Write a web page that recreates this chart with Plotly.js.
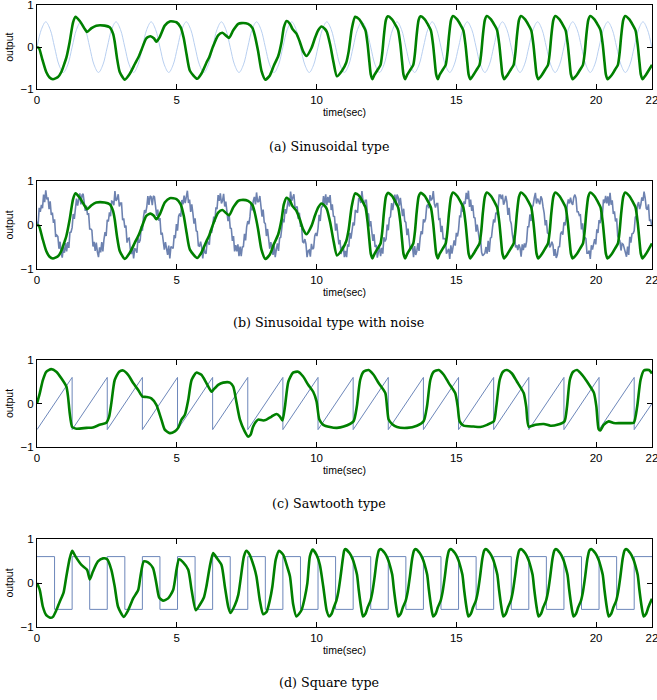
<!DOCTYPE html>
<html><head><meta charset="utf-8">
<script src="https://cdn.plot.ly/plotly-3.0.1.min.js"></script>
<style>html,body{margin:0;padding:0;background:#fff}#chart{width:657px;height:700px}</style>
</head><body><div id="chart"></div>
<script>
// ---------------- data ----------------
const xTickVals=[0,5,10,15,20,22];
const xTickText=['0','5','10','15','20','22'];
const yTickVals=[-1,0,1];
const yTickText=['\u22121','0','1'];
const captions=['(a) Sinusoidal type','(b) Sinusoidal type with noise','(c) Sawtooth type','(d) Square type'];
const xTitle='time(sec)';
const yTitle='output';

// sinusoidal reference input (sampled every sineStep seconds)
const sineStep=0.15708;
const sineIn=[
0,.42,.6,.42,0,-.42,-.6,-.42, 0,.42,.6,.42,0,-.42,-.6,-.42, 0,.42,.6,.42,0,-.42,-.6,-.42,
0,.42,.6,.42,0,-.42,-.6,-.42, 0,.42,.6,.42,0,-.42,-.6,-.42, 0,.42,.6,.42,0,-.42,-.6,-.42,
0,.42,.6,.42,0,-.42,-.6,-.42, 0,.42,.6,.42,0,-.42,-.6,-.42, 0,.42,.6,.42,0,-.42,-.6,-.42,
0,.42,.6,.42,0,-.42,-.6,-.42, 0,.42,.6,.42,0,-.42,-.6,-.42, 0,.42,.6,.42,0,-.42,-.6,-.42,
0,.42,.6,.42,0,-.42,-.6,-.42, 0,.42,.6,.42,0,-.42,-.6,-.42, 0,.42,.6,.42,0,-.42,-.6,-.42,
0,.42,.6,.42,0,-.42,-.6,-.42, 0,.42,.6,.42,0,-.42,-.6,-.42, 0,.42,.6,.42,0];

// noisy sinusoidal input (sampled every noiseStep seconds)
const noiseStep=0.0392699;
const noisyIn=[
.08,.01,.39,.30,.46,.38,.69,.52,.79,.58,.63,.36,.54,.23,.28,.05,.13,-.27,-.23,-.26,-.54,-.38,-.63,-.74,-.51,-.63,-.41,-.60,-.39,-.52,-.17,-.16,
-.06,.25,.14,.39,.60,.44,.55,.72,.47,.68,.71,.48,.32,.44,.23,.27,-.09,-.09,-.12,-.49,-.38,-.59,-.40,-.61,-.73,-.51,-.62,-.39,-.60,-.33,-.16,-.25,
.12,.08,.29,.20,.54,.53,.45,.77,.55,.59,.70,.42,.50,.50,.11,.15,-.06,-.01,-.40,-.31,-.30,-.55,-.66,-.49,-.76,-.54,-.55,-.63,-.29,-.40,-.34,-.03,
-.13,.18,.34,.27,.41,.66,.46,.66,.64,.45,.66,.64,.39,.21,.35,.10,.16,-.22,-.17,-.39,-.56,-.39,-.54,-.68,-.47,-.76,-.49,-.51,-.53,-.23,-.30,.02,
-.13,.20,.26,.19,.57,.47,.67,.50,.62,.78,.50,.58,.30,.47,.27,.03,.15,-.13,-.15,-.47,-.48,-.38,-.50,-.76,-.51,-.63,-.65,-.36,-.40,-.45,-.11,-.18,
-.04,.19,.07,.40,.36,.68,.55,.72,.49,.55,.71,.42,.53,.36,.09,.25,-.07,-.08,-.36,-.25,-.60,-.46,-.60,-.44,-.71,-.49,-.71,-.50,-.49,-.20,-.35,-.04,
.09,.02,.19,.50,.33,.54,.64,.47,.74,.52,.54,.66,.48,.19,.35,.06,.03,-.25,-.09,-.29,-.54,-.39,-.59,-.68,-.46,-.73,-.56,-.42,-.59,-.30,-.28,0,
.14,.06,.36,.26,.45,.60,.42,.76,.55,.64,.70,.40,.40,.42,.14,.28,-.02,-.01,-.38,-.40,-.32,-.43,-.73,-.59,-.57,-.72,-.43,-.55,-.52,-.25,-.18,-.25,
-.08,.23,.09,.40,.42,.66,.45,.70,.45,.64,.51,.68,.34,.47,.20,.19,-.13,.03,-.25,-.44,-.34,-.66,-.51,-.48,-.73,-.59,-.73,-.44,-.49,-.18,-.31,-.08,
.06,-.01,.34,.31,.28,.60,.59,.50,.77,.54,.43,.56,.56,.26,.25,-.03,.09,-.15,-.36,-.21,-.50,-.45,-.74,-.61,-.51,-.71,-.52,-.65,-.28,-.37,-.32,.01,
-.12,.16,.19,.50,.34,.51,.69,.45,.69,.63,.44,.62,.38,.20,.37,.09,.06,-.23,-.08,-.39,-.58,-.49,-.48,-.73,-.48,-.68,-.59,-.41,-.59,-.30,-.14,-.21,
.13,.06,.14,.43,.47,.38,.68,.56,.60,.77,.48,.40,.49,.49,.13,.14,-.16,-.02,-.31,-.31,-.32,-.65,-.60,-.54,-.77,-.46,-.65,-.53,-.35,-.47,-.18,-.26,
-.11,.20,.19,.50,.30,.54,.48,.73,.59,.78,.41,.58,.32,.45,.17,.16,-.15,.01,-.15,-.34,-.30,-.62,-.70,-.67,-.64,-.50,-.65,-.36,-.61,-.30,-.28,-.05,
.13,.06,.28,.25,.36,.68,.68,.59,.69,.46,.53,.66,.53,.23,.39,.11,.03,-.21,-.38,-.23,-.51,-.46,-.57,-.44,-.52,-.72,-.44,-.57,-.42,-.51,-.37,-.04,
-.04,.24,.09,.40,.45,.62,.73,.49,.60,.54,.47,.65,.59,.41,.27,-.01,.11,-.18,-.20,-.51,-.47,-.38,-.45,-.70,-.55,-.75,-.68,-.50,-.49,-.20,-.15,-.22,
.06,-.01,.16,.45,.58,.49,.62,.50,.46,.63,.69,.61,.30,.30,.22,.23,-.10,.04,-.28,-.28,-.31,-.64,-.64,-.58,-.77,-.46,-.56,-.44,-.32,-.44,-.10,-.18,
.11,.04,.29,.20,.58,.50,.66,.49,.65,.44,.73,.46,.56,.25,.31,.08,.15,-.25,-.33,-.36,-.58,-.42,-.44,-.55,-.60,-.72,-.49,-.68,-.27,-.40,-.20,-.19,
-.13,.18,.20,.45,.52,.36,.46,.63,.55,.76,.61,.38,.35,.47,.09,.13,-.03];

// sawtooth input corners
const sawT=[0,1.257,1.257,2.513,2.513,3.770,3.770,5.027,5.027,6.283,6.283,7.540,7.540,8.796,8.796,10.053,10.053,11.310,11.310,12.566,12.566,13.823,13.823,15.080,15.080,16.336,16.336,17.593,17.593,18.850,18.850,20.106,20.106,21.363,21.363,22];
const sawY=[-.6,.6,-.6,.6,-.6,.6,-.6,.6,-.6,.6,-.6,.6,-.6,.6,-.6,.6,-.6,.6,-.6,.6,-.6,.6,-.6,.6,-.6,.6,-.6,.6,-.6,.6,-.6,.6,-.6,.6,-.6,0];

// square input switching times and levels
const sqT=[0,0.628,1.257,1.885,2.513,3.142,3.770,4.398,5.027,5.655,6.283,6.912,7.540,8.168,8.796,9.425,10.053,10.681,11.310,11.938,12.566,13.195,13.823,14.451,15.080,15.708,16.336,16.965,17.593,18.221,18.850,19.478,20.106,20.735,21.363,22];
const sqY=[.6,-.6,.6,-.6,.6,-.6,.6,-.6,.6,-.6,.6,-.6,.6,-.6,.6,-.6,.6,-.6,.6,-.6,.6,-.6,.6,-.6,.6,-.6,.6,-.6,.6,-.6,.6,-.6,.6,-.6,.6,.6];

// output for sinusoidal input [time, output]
const outSin=[[0,0],[0.07,-0.02],[0.19,-0.29],[0.33,-0.59],[0.45,-0.72],[0.57,-0.76],[0.75,-0.71],[0.87,-0.59],[0.99,-0.37],[1.05,-0.25],
[1.17,0.13],[1.29,0.59],[1.38,0.72],[1.53,0.62],[1.71,0.43],[1.79,0.36],[1.95,0.45],[2.12,0.51],[2.42,0.51],[2.60,0.47],
[2.72,0.32],[2.78,0.13],[2.86,-0.25],[2.96,-0.59],[3.14,-0.77],[3.32,-0.63],[3.50,-0.40],[3.65,-0.21],[3.74,-0.06],[3.91,0.21],
[4.06,0.26],[4.18,0.21],[4.27,0.13],[4.39,0.24],[4.57,0.51],[4.75,0.61],[4.99,0.59],[5.14,0.47],[5.25,0.21],[5.35,-0.17],
[5.47,-0.56],[5.73,-0.75],[5.88,-0.63],[6.06,-0.37],[6.16,-0.24],[6.30,0.02],[6.48,0.28],[6.63,0.34],[6.87,0.22],[7.02,0.40],
[7.20,0.55],[7.31,0.57],[7.55,0.55],[7.71,0.45],[7.79,0.28],[7.91,-0.10],[8.03,-0.56],[8.17,-0.77],[8.33,-0.67],[8.47,-0.44],
[8.63,-0.21],[8.75,0.13],[8.83,0.47],[8.93,0.62],[9.05,0.55],[9.14,0.43],[9.28,0.32],[9.40,0.13],[9.52,-0.10],[9.64,-0.21],
[9.82,-0.02],[9.94,0.21],[10.06,0.40],[10.18,0.49],[10.30,0.43],[10.37,0.36],[10.49,0.05],[10.61,-0.37],[10.73,-0.69],[10.91,-0.56],
[11.06,-0.37],[11.15,-0.10],[11.26,0.43],[11.38,0.72],
[11.53,0.66],[11.65,0.53],[11.75,0.40],[11.83,0.05],[11.89,-0.35],[11.94,-0.65],[12.00,-0.76],[12.07,-0.66],[12.19,-0.53],[12.29,-0.42],[12.35,-0.15],[12.41,0.28],[12.48,0.64],[12.55,0.73],
[12.70,0.66],[12.82,0.53],[12.92,0.40],[13.00,0.05],[13.06,-0.35],[13.11,-0.65],[13.17,-0.76],[13.24,-0.66],[13.36,-0.53],[13.46,-0.42],[13.52,-0.15],[13.58,0.28],[13.65,0.64],[13.72,0.73],
[13.87,0.66],[13.99,0.53],[14.09,0.40],[14.17,0.05],[14.23,-0.35],[14.28,-0.65],[14.34,-0.76],[14.40,-0.66],[14.52,-0.53],[14.62,-0.42],[14.68,-0.15],[14.74,0.28],[14.81,0.64],[14.88,0.74],
[15.03,0.66],[15.15,0.53],[15.25,0.40],[15.33,0.05],[15.39,-0.35],[15.44,-0.65],[15.50,-0.76],[15.61,-0.66],[15.73,-0.53],[15.83,-0.42],[15.89,-0.15],[15.95,0.28],[16.02,0.64],[16.09,0.74],
[16.24,0.66],[16.36,0.53],[16.46,0.40],[16.54,0.05],[16.60,-0.35],[16.65,-0.65],[16.71,-0.76],[16.83,-0.66],[16.95,-0.53],[17.05,-0.42],[17.11,-0.15],[17.17,0.28],[17.24,0.64],[17.31,0.74],
[17.46,0.66],[17.58,0.53],[17.68,0.40],[17.76,0.05],[17.82,-0.35],[17.87,-0.65],[17.93,-0.76],[18.06,-0.66],[18.18,-0.53],[18.28,-0.42],[18.34,-0.15],[18.40,0.28],[18.47,0.64],[18.54,0.74],
[18.69,0.66],[18.81,0.53],[18.91,0.40],[18.99,0.05],[19.05,-0.35],[19.10,-0.65],[19.16,-0.76],[19.31,-0.66],[19.43,-0.53],[19.53,-0.42],[19.59,-0.15],[19.65,0.28],[19.72,0.64],[19.79,0.74],
[19.94,0.66],[20.06,0.53],[20.16,0.40],[20.24,0.05],[20.30,-0.35],[20.35,-0.65],[20.41,-0.76],[20.56,-0.66],[20.68,-0.53],[20.78,-0.42],[20.84,-0.15],[20.90,0.28],[20.97,0.64],[21.04,0.74],
[21.19,0.66],[21.31,0.53],[21.41,0.40],[21.49,0.05],[21.55,-0.35],[21.60,-0.65],[21.66,-0.76],[21.78,-0.66],[21.90,-0.53],[22.0,-0.42]];

// output for sawtooth input [time, output]
const outSaw=[[0,0],[0.10,0.24],[0.21,0.54],[0.33,0.73],[0.51,0.79],[0.69,0.73],[0.87,0.58],[1.05,0.39],[1.11,0.16],[1.17,-0.22],
[1.26,-0.54],[1.41,-0.58],[1.77,-0.56],[2.00,-0.55],[2.24,-0.49],[2.48,-0.44],[2.58,-0.30],[2.66,0.01],[2.78,0.54],[2.94,0.73],
[3.08,0.76],[3.26,0.66],[3.44,0.47],[3.62,0.31],[3.77,0.16],[3.91,0.15],[4.09,0.12],[4.27,-0.03],[4.45,-0.37],[4.57,-0.60],
[4.75,-0.68],[4.93,-0.64],[5.05,-0.56],[5.17,-0.37],[5.29,-0.26],[5.41,0.08],[5.53,0.54],[5.70,0.71],[5.88,0.66],[6.06,0.47],
[6.24,0.27],[6.30,0.31],[6.48,0.43],[6.66,0.48],[6.90,0.48],[7.02,0.39],[7.14,0.01],[7.26,-0.37],[7.43,-0.64],[7.55,-0.76],
[7.64,-0.72],[7.73,-0.53],[7.91,-0.37],[8.09,-0.39],[8.21,-0.37],[8.39,-0.30],[8.57,-0.24],[8.69,-0.30],[8.78,-0.39],[8.87,-0.07],
[8.99,0.50],[9.16,0.71],[9.34,0.73],[9.52,0.62],[9.70,0.43],[9.88,0.27],[10.00,0.05],[10.10,-0.37],[10.24,-0.49],[10.48,-0.54],
[10.73,-0.56],[10.97,-0.53],[11.32,-0.41],[11.44,-0.07],[11.56,0.54],[11.68,0.73],[11.86,0.77],[12.04,0.66],[12.22,0.47],[12.46,0.24],
[12.52,-0.07],[12.58,-0.37],[12.70,-0.47],[12.88,-0.54],[13.24,-0.56],[13.59,-0.51],[13.83,-0.41],[13.95,-0.07],[14.07,0.54],[14.19,0.73],
[14.37,0.77],[14.55,0.66],[14.73,0.47],[14.96,0.24],[15.05,-0.07],[15.12,-0.41],[15.26,-0.51],[15.62,-0.53],[15.86,-0.54],[16.10,-0.49],
[16.34,-0.41],[16.43,-0.07],[16.55,0.54],[16.67,0.73],[16.81,0.77],[16.99,0.69],[17.17,0.50],[17.41,0.24],[17.50,-0.07],[17.59,-0.53],
[17.83,-0.49],[18.13,-0.47],[18.37,-0.51],[18.61,-0.49],[18.87,-0.41],[18.96,-0.07],[19.06,0.54],[19.18,0.73],[19.32,0.77],[19.50,0.66],
[19.68,0.50],[19.92,0.25],[20.01,-0.07],[20.09,-0.59],[20.15,-0.62],[20.27,-0.49],[20.45,-0.41],[20.63,-0.45],[20.87,-0.45],[21.17,-0.45],
[21.35,-0.44],[21.47,-0.07],[21.59,0.54],[21.71,0.76],[21.89,0.77],[22.0,0.69]];

// output for square input [time, output]
const outSq=[[0,0],[0.10,-0.16],[0.21,-0.54],[0.33,-0.73],[0.48,-0.79],[0.57,-0.77],[0.69,-0.62],[0.81,-0.43],[0.95,-0.22],[1.05,0.15],
[1.17,0.56],[1.26,0.73],[1.38,0.60],[1.59,0.41],[1.79,0.30],[1.89,0.08],[2.00,0.26],[2.18,0.49],[2.36,0.56],[2.51,0.54],
[2.66,0.30],[2.78,-0.08],[2.90,-0.54],[3.10,-0.77],[3.26,-0.62],[3.44,-0.35],[3.62,-0.16],[3.70,0.15],[3.82,0.49],[3.97,0.47],
[4.15,0.34],[4.27,-0.01],[4.37,-0.33],[4.51,-0.40],[4.69,-0.35],[4.87,-0.16],[4.99,0.30],[5.08,0.54],[5.23,0.47],[5.41,0.30],
[5.53,-0.16],[5.68,-0.62],[5.82,-0.50],[5.97,-0.33],[6.06,-0.08],[6.18,0.37],[6.30,0.68],[6.44,0.56],[6.60,0.41],[6.72,-0.08],
[6.84,-0.54],[6.92,-0.68],[7.08,-0.50],[7.20,-0.27],[7.28,0.07],[7.40,0.60],[7.49,0.73],[7.61,0.64],[7.76,0.37],[7.85,0.15],
[7.97,-0.39],[8.09,-0.71],[8.21,-0.66],[8.33,-0.39],[8.42,-0.08],[8.54,0.53],[8.66,0.73],[8.81,0.64],[8.95,0.37],[9.05,0.15],
[9.16,-0.47],[9.28,-0.76],[9.46,-0.62],[9.58,-0.33],[9.67,-0.01],[9.76,0.60],[9.86,0.76],[10.00,0.64],[10.12,0.41],[10.24,-0.08],
[10.36,-0.62],[10.45,-0.76],[10.54,-0.70],[10.62,-0.55],[10.71,-0.40],[10.78,-0.20],[10.86,0.15],[10.94,0.55],[10.99,0.74],[11.03,0.77],
[11.18,0.68],[11.30,0.53],[11.39,0.34],[11.45,0.18],[11.51,-0.16],[11.59,-0.54],[11.66,-0.76],[11.75,-0.70],[11.83,-0.55],[11.93,-0.40],[12.00,-0.20],[12.08,0.15],[12.16,0.55],[12.23,0.74],[12.29,0.77],
[12.44,0.68],[12.56,0.53],[12.65,0.34],[12.71,0.18],[12.77,-0.16],[12.85,-0.54],[12.92,-0.76],[13.01,-0.70],[13.09,-0.55],[13.19,-0.40],[13.26,-0.20],[13.34,0.15],[13.42,0.55],[13.49,0.74],[13.54,0.77],
[13.69,0.68],[13.81,0.53],[13.90,0.34],[13.96,0.18],[14.02,-0.16],[14.10,-0.54],[14.17,-0.76],[14.26,-0.70],[14.34,-0.55],[14.44,-0.40],[14.51,-0.20],[14.59,0.15],[14.67,0.55],[14.74,0.74],[14.80,0.77],
[14.95,0.68],[15.07,0.53],[15.16,0.34],[15.22,0.18],[15.28,-0.16],[15.36,-0.54],[15.43,-0.76],[15.52,-0.70],[15.60,-0.55],[15.70,-0.40],[15.77,-0.20],[15.85,0.15],[15.93,0.55],[16.00,0.74],[16.05,0.77],
[16.20,0.68],[16.32,0.53],[16.41,0.34],[16.47,0.18],[16.53,-0.16],[16.61,-0.54],[16.68,-0.76],[16.77,-0.70],[16.85,-0.55],[16.95,-0.40],[17.02,-0.20],[17.10,0.15],[17.18,0.55],[17.25,0.74],[17.31,0.77],
[17.46,0.68],[17.58,0.53],[17.67,0.34],[17.73,0.18],[17.79,-0.16],[17.87,-0.54],[17.94,-0.76],[18.03,-0.70],[18.11,-0.55],[18.21,-0.40],[18.28,-0.20],[18.36,0.15],[18.44,0.55],[18.51,0.74],[18.56,0.77],
[18.71,0.68],[18.83,0.53],[18.92,0.34],[18.98,0.18],[19.04,-0.16],[19.12,-0.54],[19.19,-0.76],[19.28,-0.70],[19.36,-0.55],[19.46,-0.40],[19.53,-0.20],[19.61,0.15],[19.69,0.55],[19.76,0.74],[19.82,0.77],
[19.97,0.68],[20.09,0.53],[20.18,0.34],[20.24,0.18],[20.30,-0.16],[20.38,-0.54],[20.45,-0.76],[20.54,-0.70],[20.62,-0.55],[20.72,-0.40],[20.79,-0.20],[20.87,0.15],[20.95,0.55],[21.02,0.74],[21.07,0.77],
[21.22,0.68],[21.34,0.53],[21.43,0.34],[21.49,0.18],[21.55,-0.16],[21.63,-0.54],[21.70,-0.76],[21.79,-0.70],[21.87,-0.55],[21.97,-0.40],[22.0,-0.36]];

// ---------------- chart ----------------
const GREEN='#008000';
const FONT='"Liberation Sans", Arial, Helvetica, sans-serif';
function green(pairs, ax){
  return {type:'scatter',mode:'lines',x:pairs.map(p=>p[0]),y:pairs.map(p=>p[1]),
    xaxis:'x'+ax,yaxis:'y'+ax,line:{color:GREEN,width:2.6,shape:'spline',smoothing:0.6},hoverinfo:'skip'};
}
const traces=[
  {type:'scatter',mode:'lines',x0:0,dx:sineStep,y:sineIn,xaxis:'x',yaxis:'y',
   line:{color:'#b8cff0',width:1,shape:'spline',smoothing:1},hoverinfo:'skip'},
  green(outSin,''),
  {type:'scatter',mode:'lines',x0:0,dx:noiseStep,y:noisyIn,xaxis:'x2',yaxis:'y2',
   line:{color:'#6d82b0',width:1.6},hoverinfo:'skip'},
  green(outSin,'2'),
  {type:'scatter',mode:'lines',x:sawT,y:sawY,xaxis:'x3',yaxis:'y3',
   line:{color:'#6d87ba',width:1},hoverinfo:'skip'},
  green(outSaw,'3'),
  {type:'scatter',mode:'lines',x:sqT,y:sqY,xaxis:'x4',yaxis:'y4',
   line:{color:'#6d87ba',width:1,shape:'hv'},hoverinfo:'skip'},
  green(outSq,'4')
];

const domains=[[0.8724,0.9929],[0.6157,0.7414],[0.3614,0.4857],[0.1043,0.2300]];
const capY=[0.7914,0.5386,0.2814,0.0243];
const layout={width:657,height:700,margin:{l:37,r:5,t:0,b:0},showlegend:false,
  paper_bgcolor:'#fff',plot_bgcolor:'#fff',font:{family:FONT,color:'#000'},annotations:[]};
for(let i=0;i<4;i++){
  const s=i===0?'':String(i+1);
  layout['xaxis'+s]={domain:[0,1],anchor:'y'+s,range:[0,22],tickmode:'array',tickvals:xTickVals,ticktext:xTickText,
    showline:true,mirror:'ticks',linecolor:'#000',linewidth:1,ticks:'inside',ticklen:5,tickwidth:1,tickcolor:'#000',
    showgrid:false,zeroline:false,ticklabeloverflow:'allow',tickfont:{family:FONT,size:11.5,color:'#000'},
    title:{text:xTitle,font:{family:FONT,size:10.5,color:'#000'},standoff:3},automargin:false,fixedrange:true};
  layout['yaxis'+s]={domain:domains[i],anchor:'x'+s,range:[-1,1],tickmode:'array',tickvals:yTickVals,ticktext:yTickText,
    showline:true,mirror:'ticks',linecolor:'#000',linewidth:1,ticks:'inside',ticklen:5,tickwidth:1,tickcolor:'#000',
    showgrid:false,zeroline:false,ticklabeloverflow:'allow',tickfont:{family:FONT,size:11.5,color:'#000'},
    title:{text:yTitle,font:{family:FONT,size:10.5,color:'#000'},standoff:4},automargin:false,fixedrange:true};
  layout.annotations.push({text:captions[i],xref:'paper',yref:'paper',x:0.474,y:capY[i],xanchor:'center',yanchor:'middle',
    showarrow:false,font:{family:'"DejaVu Serif", serif',size:12.7,color:'#000'}});
}
Plotly.newPlot('chart',traces,layout,{staticPlot:true,displayModeBar:false});
</script>
</body></html>
